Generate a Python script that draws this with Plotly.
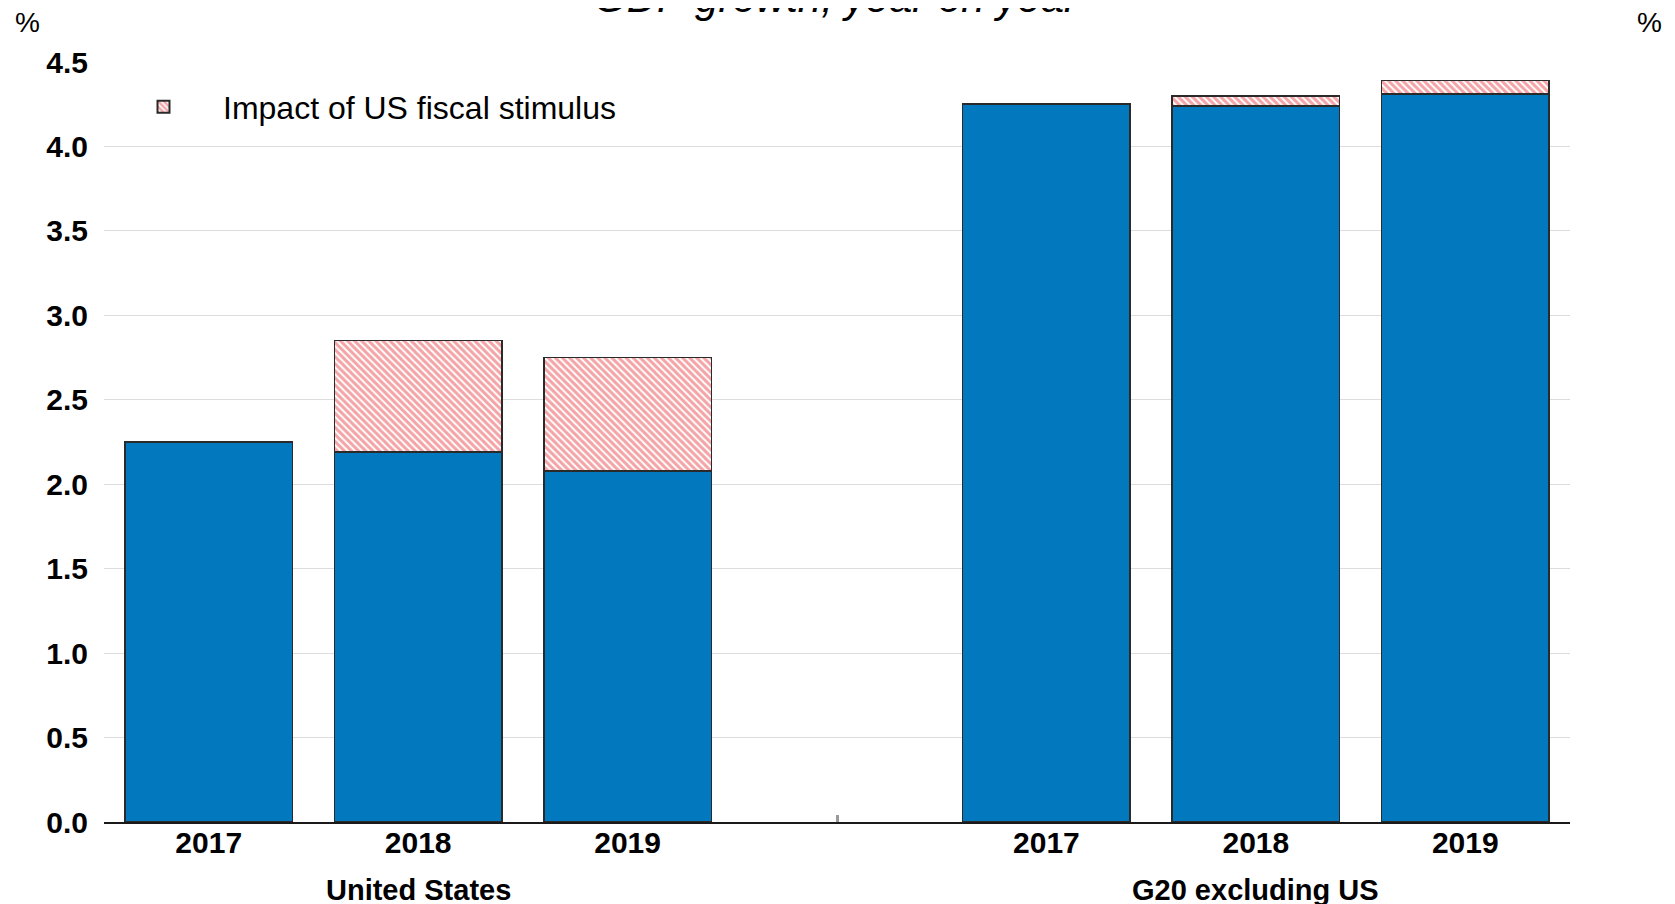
import plotly.graph_objects as go

# Data
positions = [0, 1, 2, 4, 5, 6]
years = ["2017", "2018", "2019", "2017", "2018", "2019"]
groups = ["United States", "G20 excluding US"]
group_centers = [1, 5]
baseline_growth = [2.25, 2.19, 2.08, 4.25, 4.24, 4.31]
fiscal_impact = [0.0, 0.66, 0.67, 0.0, 0.06, 0.08]
y_ticks = [0, 0.5, 1, 1.5, 2, 2.5, 3, 3.5, 4, 4.5]
y_ticktext = ["0.0", "0.5", "1.0", "1.5", "2.0", "2.5", "3.0", "3.5", "4.0", "4.5"]
divider_position = [3]

BLUE = "#0279BF"
EDGE = "#2a2a2a"
FONT = "Liberation Sans, Arial, Helvetica, sans-serif"

fig = go.Figure()
fig.add_trace(go.Bar(
    x=positions, y=baseline_growth, width=0.8,
    marker=dict(color=BLUE, line=dict(color=EDGE, width=1.6)),
    showlegend=False, name="GDP growth"))
fig.add_trace(go.Bar(
    x=positions, y=fiscal_impact, width=0.8,
    marker=dict(color="white", line=dict(color=EDGE, width=1.6),
                pattern=dict(shape="\\", fgcolor="#E9484D", bgcolor="white",
                             size=5, solidity=0.6)),
    name="Impact of US fiscal stimulus"))

fig.update_layout(
    barmode="stack",
    width=1667, height=896,
    margin=dict(l=96, r=105, t=54, b=82),
    plot_bgcolor="white", paper_bgcolor="white",
    font=dict(family=FONT, color="black"),
    showlegend=True,
    legend=dict(x=0.0, y=0.941, xanchor="left", yanchor="middle",
                bgcolor="rgba(0,0,0,0)",
                font=dict(size=32, family=FONT),
                itemwidth=109, itemsizing="constant"),
    xaxis=dict(range=[-0.5, 6.5], tickvals=positions, ticktext=years,
               tickfont=dict(size=30, family=FONT, weight="bold"),
               showgrid=False, zeroline=False, showline=True,
               linecolor="#1a1a1a", linewidth=2, ticks="", ticklabelstandoff=-7,
               minor=dict(tickmode="array", tickvals=divider_position,
                          ticks="inside", ticklen=7, tickwidth=3,
                          tickcolor="#9a9a9a", showgrid=False)),
    yaxis=dict(range=[0, 4.5], tickvals=y_ticks, ticktext=y_ticktext,
               tickfont=dict(size=30, family=FONT, weight="bold"),
               showgrid=True, gridcolor="#dddddd", gridwidth=1.2,
               zeroline=False, showline=False, ticks="", ticklabelstandoff=15),
    yaxis2=dict(range=[0, 4.5], overlaying="y", side="right", tickvals=y_ticks,
                ticktext=y_ticktext,
                tickfont=dict(size=30, family=FONT, weight="bold"),
                showgrid=False, zeroline=False, showline=False, ticks="",
                ticklabelstandoff=18, anchor="x"),
)

for name, cx in zip(groups, group_centers):
    fig.add_annotation(x=cx, xref="x", y=-0.0895, yref="paper", text=name,
                       showarrow=False, yanchor="middle",
                       font=dict(size=29, family=FONT, weight="bold"))

fig.add_annotation(x=-0.062, xref="paper", y=1.075, yref="paper", text="%",
                   showarrow=False, font=dict(size=28, family=FONT))
fig.add_annotation(x=1.064, xref="paper", y=1.075, yref="paper", text="%",
                   showarrow=False, font=dict(size=28, family=FONT))
fig.add_annotation(x=0.5, xref="paper", y=1.085, yref="paper",
                   text="<i>GDP growth, year on year</i>", showarrow=False,
                   yanchor="middle", font=dict(size=42, family=FONT))

fig.write_html("out.html")
